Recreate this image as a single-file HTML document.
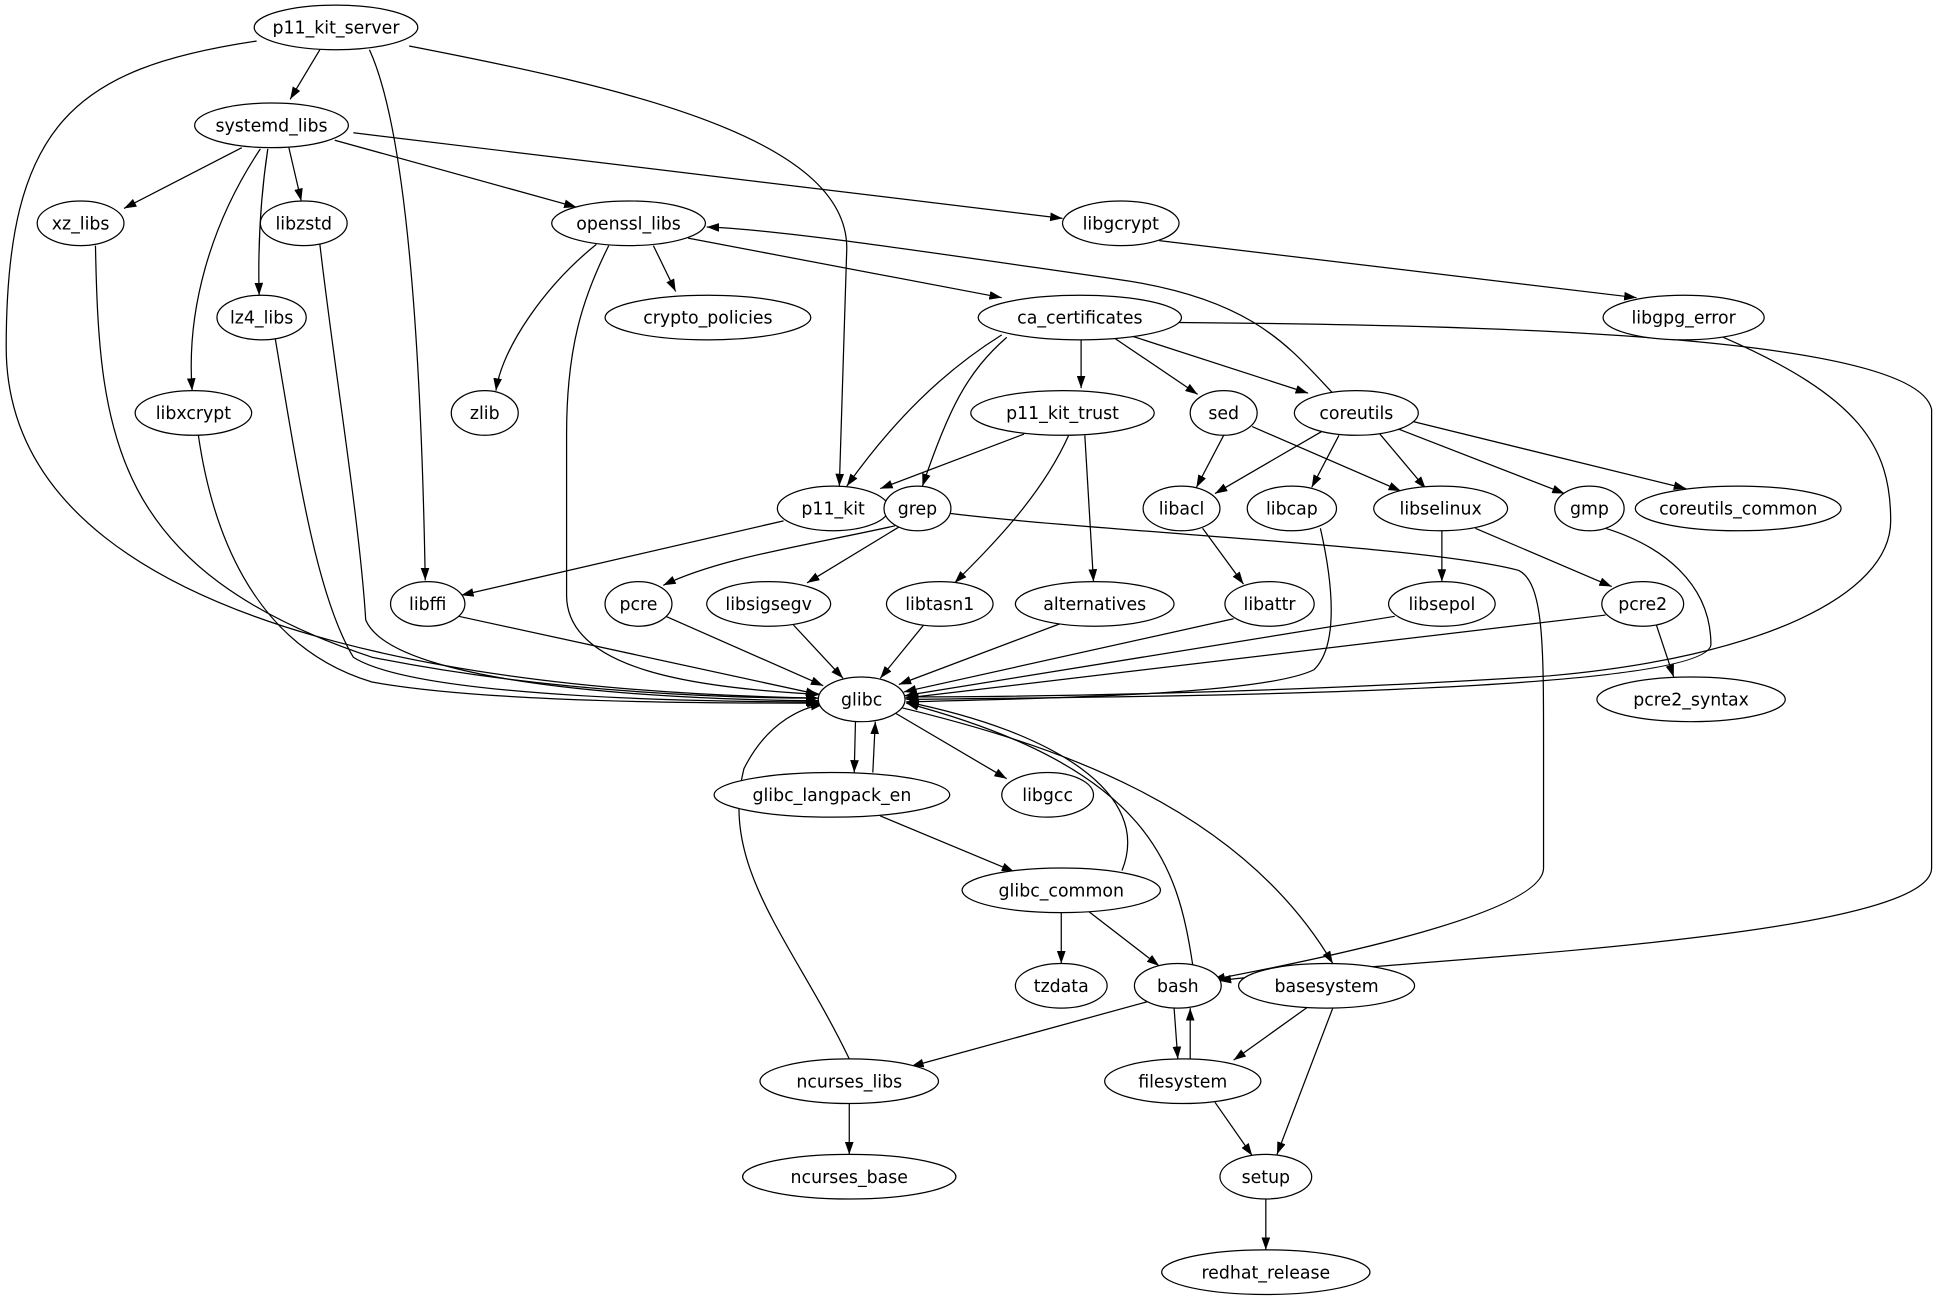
<!DOCTYPE html>
<html><head><meta charset="utf-8"><style>
html,body{margin:0;padding:0;background:#fff;}
svg{display:block;}
text{font-family:"DejaVu Sans","Liberation Sans",sans-serif;font-size:14px;fill:#000;}
</style></head><body>
<svg width="1944" height="1307" viewBox="0 0 1568 1054" xmlns="http://www.w3.org/2000/svg">
<defs><marker id="a" markerWidth="10" markerHeight="7" refX="10" refY="3.5" orient="auto" markerUnits="userSpaceOnUse"><path d="M0,0 L10,3.5 L0,7 z" fill="#000"/></marker></defs>
<g fill="none" stroke="#000" stroke-width="1" marker-end="url(#a)">
<path d="M258,40 L234,80"/>
<path d="M207,33 C60,55 5,100 5,280 C5,540 500,560 660,563"/>
<path d="M298,40 C330,110 340,300 343,468"/>
<path d="M330,37 C500,70 683,110 683,200 L677,392"/>
<path d="M195,119 L100,168"/>
<path d="M233,119 L243,162"/>
<path d="M216,120 C210,160 208,200 209,238"/>
<path d="M210,120 C170,180 150,250 155,315"/>
<path d="M270,113 L465,167"/>
<path d="M285,107 L857,176"/>
<path d="M77,198 C80,350 90,460 300,530 C450,560 600,563 660,563"/>
<path d="M258,197 C270,300 290,420 295,500 C320,560 600,565 660,565"/>
<path d="M222,273 C240,380 255,480 285,530 C340,565 600,566 660,566"/>
<path d="M160,351 C170,420 200,520 300,550 C400,568 600,567 661,567"/>
<path d="M481,197 C440,230 405,280 400,315"/>
<path d="M491,198 C470,240 457,280 457,350 L457,480 C457,540 560,555 662,560"/>
<path d="M527,198 L545,235"/>
<path d="M555,192 L808,240"/>
<path d="M935,194 L1320,240"/>
<path d="M872,274 L872,313"/>
<path d="M898,272 L966,318"/>
<path d="M910,270 L1055,317"/>
<path d="M808,270 C760,300 720,340 683,392"/>
<path d="M812,272 C780,300 765,330 744,392"/>
<path d="M950,260 C1200,262 1545,270 1558,330 L1558,700 C1558,760 1100,775 983,791"/>
<path d="M1075,317 C1040,280 1010,240 900,225 C760,205 630,185 570,183"/>
<path d="M826,350 L710,394"/>
<path d="M862,351 C840,400 800,440 770,470"/>
<path d="M875,351 L882,469"/>
<path d="M987,351 L965,393"/>
<path d="M1010,344 L1130,396"/>
<path d="M1066,348 L980,398"/>
<path d="M1080,351 L1058,393"/>
<path d="M1113,350 L1150,394"/>
<path d="M1128,346 L1262,398"/>
<path d="M1140,340 L1360,394"/>
<path d="M632,420 L372,480"/>
<path d="M722,424 C650,440 580,450 535,472"/>
<path d="M725,425 L651,470"/>
<path d="M766,414 C900,430 1150,440 1225,460 C1245,470 1245,520 1245,600 L1245,700 C1245,740 1030,780 978,790"/>
<path d="M970,426 L1003,471"/>
<path d="M1163,428 L1163,469"/>
<path d="M1190,426 L1300,473"/>
<path d="M1295,426 C1340,440 1380,470 1380,520 C1375,560 900,562 731,564"/>
<path d="M1390,272 C1500,320 1525,360 1525,420 C1525,480 1420,530 1250,545 C1050,558 850,562 731,562"/>
<path d="M1065,426 C1075,470 1080,520 1060,540 C1020,560 850,563 731,566"/>
<path d="M370,497 L660,560"/>
<path d="M537,497 L664,553"/>
<path d="M640,504 L680,547"/>
<path d="M745,504 L710,547"/>
<path d="M855,503 L725,552"/>
<path d="M995,499 L729,558"/>
<path d="M1125,497 L730,561"/>
<path d="M1295,496 L730,563"/>
<path d="M1336,504 L1350,546"/>
<path d="M690,582 L689,623"/>
<path d="M704,623 L706,582"/>
<path d="M722,575 L812,628"/>
<path d="M720,569 C850,600 1000,650 1075,777"/>
<path d="M710,658 L818,703"/>
<path d="M905,702 C930,640 850,590 731,566"/>
<path d="M856,736 L856,777"/>
<path d="M878,735 L935,779"/>
<path d="M962,778 C950,700 930,620 731,567"/>
<path d="M925,808 L735,860"/>
<path d="M947,813 L950,854"/>
<path d="M960,854 L960,813"/>
<path d="M1055,812 L995,855"/>
<path d="M1075,813 L1030,931"/>
<path d="M685,854 C640,760 580,700 600,620 C620,580 650,570 664,568"/>
<path d="M685,890 L685,931"/>
<path d="M980,889 L1010,932"/>
<path d="M1021,967 L1021,1008"/>
</g>
<g fill="#fff" stroke="#000" stroke-width="1">
<ellipse cx="271" cy="22" rx="66" ry="18"/>
<ellipse cx="219" cy="101" rx="62" ry="18"/>
<ellipse cx="65" cy="180" rx="35" ry="18"/>
<ellipse cx="245" cy="180" rx="35" ry="18"/>
<ellipse cx="507" cy="180" rx="62" ry="18"/>
<ellipse cx="904" cy="180" rx="47" ry="18"/>
<ellipse cx="211" cy="256" rx="36" ry="18"/>
<ellipse cx="571" cy="256" rx="83" ry="18"/>
<ellipse cx="871" cy="256" rx="82" ry="18"/>
<ellipse cx="1358" cy="256" rx="65" ry="18"/>
<ellipse cx="156" cy="333" rx="47" ry="18"/>
<ellipse cx="391" cy="333" rx="27" ry="18"/>
<ellipse cx="857" cy="333" rx="74" ry="18"/>
<ellipse cx="987" cy="333" rx="27" ry="18"/>
<ellipse cx="1094" cy="333" rx="50" ry="18"/>
<ellipse cx="672" cy="410" rx="45" ry="18"/>
<ellipse cx="740" cy="410" rx="27" ry="18"/>
<ellipse cx="953" cy="410" rx="31" ry="18"/>
<ellipse cx="1042" cy="410" rx="36" ry="18"/>
<ellipse cx="1162" cy="410" rx="54" ry="18"/>
<ellipse cx="1282" cy="410" rx="28" ry="18"/>
<ellipse cx="1402" cy="410" rx="83" ry="18"/>
<ellipse cx="345" cy="487" rx="30" ry="18"/>
<ellipse cx="515" cy="487" rx="27" ry="18"/>
<ellipse cx="620" cy="487" rx="50" ry="18"/>
<ellipse cx="758" cy="487" rx="43" ry="18"/>
<ellipse cx="883" cy="487" rx="64" ry="18"/>
<ellipse cx="1024" cy="487" rx="36" ry="18"/>
<ellipse cx="1163" cy="487" rx="43" ry="18"/>
<ellipse cx="1325" cy="487" rx="33" ry="18"/>
<ellipse cx="695" cy="564" rx="35" ry="18"/>
<ellipse cx="1364" cy="564" rx="76" ry="18"/>
<ellipse cx="671" cy="641" rx="95" ry="18"/>
<ellipse cx="845" cy="641" rx="37" ry="18"/>
<ellipse cx="856" cy="718" rx="80" ry="18"/>
<ellipse cx="856" cy="795" rx="37" ry="18"/>
<ellipse cx="950" cy="795" rx="35" ry="18"/>
<ellipse cx="1070" cy="795" rx="71" ry="18"/>
<ellipse cx="685" cy="872" rx="72" ry="18"/>
<ellipse cx="954" cy="872" rx="63" ry="18"/>
<ellipse cx="685" cy="949" rx="86" ry="18"/>
<ellipse cx="1021" cy="949" rx="37" ry="18"/>
<ellipse cx="1021" cy="1026" rx="84" ry="18"/>
</g>
<g text-anchor="middle">
<text x="271" y="27">p11_kit_server</text>
<text x="219" y="106">systemd_libs</text>
<text x="65" y="185">xz_libs</text>
<text x="245" y="185">libzstd</text>
<text x="507" y="185">openssl_libs</text>
<text x="904" y="185">libgcrypt</text>
<text x="211" y="261">lz4_libs</text>
<text x="571" y="261">crypto_policies</text>
<text x="871" y="261">ca_certificates</text>
<text x="1358" y="261">libgpg_error</text>
<text x="156" y="338">libxcrypt</text>
<text x="391" y="338">zlib</text>
<text x="857" y="338">p11_kit_trust</text>
<text x="987" y="338">sed</text>
<text x="1094" y="338">coreutils</text>
<text x="672" y="415">p11_kit</text>
<text x="740" y="415">grep</text>
<text x="953" y="415">libacl</text>
<text x="1042" y="415">libcap</text>
<text x="1162" y="415">libselinux</text>
<text x="1282" y="415">gmp</text>
<text x="1402" y="415">coreutils_common</text>
<text x="345" y="492">libffi</text>
<text x="515" y="492">pcre</text>
<text x="620" y="492">libsigsegv</text>
<text x="758" y="492">libtasn1</text>
<text x="883" y="492">alternatives</text>
<text x="1024" y="492">libattr</text>
<text x="1163" y="492">libsepol</text>
<text x="1325" y="492">pcre2</text>
<text x="695" y="569">glibc</text>
<text x="1364" y="569">pcre2_syntax</text>
<text x="671" y="646">glibc_langpack_en</text>
<text x="845" y="646">libgcc</text>
<text x="856" y="723">glibc_common</text>
<text x="856" y="800">tzdata</text>
<text x="950" y="800">bash</text>
<text x="1070" y="800">basesystem</text>
<text x="685" y="877">ncurses_libs</text>
<text x="954" y="877">filesystem</text>
<text x="685" y="954">ncurses_base</text>
<text x="1021" y="954">setup</text>
<text x="1021" y="1031">redhat_release</text>
</g>
</svg>
</body></html>
